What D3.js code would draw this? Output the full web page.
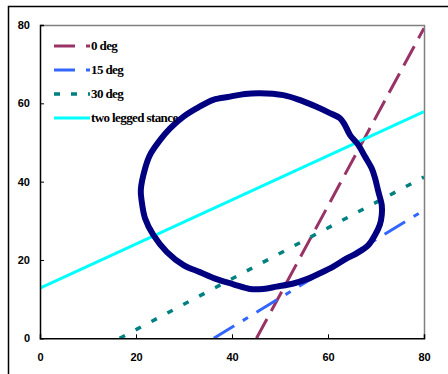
<!DOCTYPE html>
<html>
<head>
<meta charset="utf-8">
<script src="https://cdn.jsdelivr.net/npm/d3@7"></script>
<style>
  body { margin: 0; background: #fff; }
  svg { display: block; }
</style>
</head>
<body>
<div id="chart"></div>
<script>
// tick values
const xTicks = [0, 20, 40, 60, 80];
const yTicks = [0, 20, 40, 60, 80];

// straight series, two end points each
const deg0 = [[45.1, 0], [80, 79.2]];
const deg15 = [[36.2, 0], [80, 32.7]];
const deg30 = [[16.6, 0], [80, 41.2]];
const twoLegged = [[0, 12.8], [80, 57.9]];

const loop = [
  [45.8, 62.6], [50.7, 62.1], [54.2, 60.8], [57.6, 59.1], [60.4, 57.5],
  [62.5, 56.2], [63.5, 54.5], [64.6, 51.9], [66.3, 49.4], [67.7, 46.4],
  [69.1, 43.4], [69.8, 40.9], [70.5, 37.4], [71.2, 34.0], [71.2, 31.5],
  [70.8, 29.0], [69.8, 26.4], [68.4, 23.8], [66.0, 21.7], [63.9, 20.4],
  [61.1, 18.3], [58.3, 16.6], [55.6, 15.1], [52.8, 14.0], [49.3, 13.2],
  [46.5, 12.6], [43.75, 12.6], [40.3, 13.8], [36.8, 15.1], [33.3, 16.9],
  [29.9, 18.7], [26.4, 22.1], [23.6, 26.4], [21.9, 30.6], [21.2, 34.9],
  [21.0, 37.9], [21.9, 43.4], [22.9, 46.8], [25.0, 50.6], [27.1, 53.6],
  [29.9, 56.6], [32.6, 58.7], [36.1, 60.9], [39.6, 61.7], [42.7, 62.4]
];

const legendNames = ['0 deg', '15 deg', '30 deg', 'two legged stance'];

const series = [
  { name: legendNames[0], data: deg0, color: '#993366', dash: '22,9', width: 3 },
  { name: legendNames[1], data: deg15, color: '#3366ff', dash: '24,10,6,10', width: 3 },
  { name: legendNames[2], data: deg30, color: '#008080', dash: '6,12', width: 3.5 },
  { name: legendNames[3], data: twoLegged, color: '#00ffff', dash: null, width: 3 }
];

const W = 448, H = 374;
const margin = { top: 25, right: 24, bottom: 36, left: 40 };

const svg = d3.select('#chart').append('svg')
  .attr('width', W)
  .attr('height', H);

// outer frame of the picture
svg.append('path')
  .attr('d', 'M8.5,' + H + 'V6.5H' + W)
  .attr('fill', 'none')
  .attr('stroke', '#000')
  .attr('stroke-width', 1.5);

const x = d3.scaleLinear().domain([0, 80]).range([margin.left, W - margin.right]);
const y = d3.scaleLinear().domain([0, 80]).range([338.3, margin.top]);

svg.append('defs').append('clipPath').attr('id', 'plotclip')
  .append('rect')
  .attr('x', x(0)).attr('y', y(80))
  .attr('width', x(80) - x(0)).attr('height', y(0) - y(80));

// gray top and right edges of plot area
svg.append('path')
  .attr('d', 'M' + x(0) + ',' + (y(80) + 0.5) + 'H' + (x(80) + 0.5) + 'V' + y(0))
  .attr('fill', 'none')
  .attr('stroke', '#808080')
  .attr('stroke-width', 1.5);

const line = d3.line().x(d => x(d[0])).y(d => y(d[1]));

const plot = svg.append('g').attr('clip-path', 'url(#plotclip)');

plot.selectAll('.series')
  .data(series)
  .join('path')
  .attr('class', 'series')
  .attr('d', d => line(d.data))
  .attr('fill', 'none')
  .attr('stroke', d => d.color)
  .attr('stroke-width', d => d.width)
  .attr('stroke-dasharray', d => d.dash);

plot.append('path')
  .datum(loop)
  .attr('d', d3.line().x(d => x(d[0])).y(d => y(d[1])).curve(d3.curveCatmullRomClosed.alpha(0.5)))
  .attr('fill', 'none')
  .attr('stroke', '#000080')
  .attr('stroke-width', 6)
  .attr('stroke-linejoin', 'round');

// axes
const xAxis = svg.append('g')
  .attr('transform', 'translate(0,' + y(0) + ')')
  .call(d3.axisBottom(x).tickValues(xTicks).tickSize(-4).tickPadding(15));
const yAxis = svg.append('g')
  .attr('transform', 'translate(' + x(0) + ',0)')
  .call(d3.axisLeft(y).tickValues(yTicks).tickSize(-4).tickPadding(10));

[xAxis, yAxis].forEach(a => {
  a.select('.domain').attr('stroke', '#000').attr('stroke-width', 1.5);
  a.selectAll('.tick line').attr('stroke', '#000');
  a.selectAll('.tick text')
    .attr('fill', '#000')
    .style('font-family', 'Arial, "Liberation Sans", sans-serif')
    .style('font-size', '11px')
    .style('font-weight', 'bold');
});
xAxis.selectAll('.tick').filter(d => d === 0 || d === 80).select('line').remove();
yAxis.selectAll('.tick').filter(d => d === 0 || d === 80).select('line').remove();

// legend
const legendY = [46, 70, 94, 118];
const legend = svg.append('g');
series.forEach((s, i) => {
  legend.append('line')
    .attr('x1', 54).attr('x2', 90)
    .attr('y1', legendY[i]).attr('y2', legendY[i])
    .attr('stroke', s.color)
    .attr('stroke-width', s.width)
    .attr('stroke-dasharray', s.dash ? (i === 2 ? '6,11' : '21,11') : null);
  legend.append('text')
    .attr('x', 91)
    .attr('y', legendY[i] + 4)
    .style('font-family', '"Times New Roman", "Liberation Serif", serif')
    .style('font-size', '13px')
    .style('font-weight', 'bold')
    .style('letter-spacing', '-0.6px')
    .text(s.name);
});
</script>
</body>
</html>
